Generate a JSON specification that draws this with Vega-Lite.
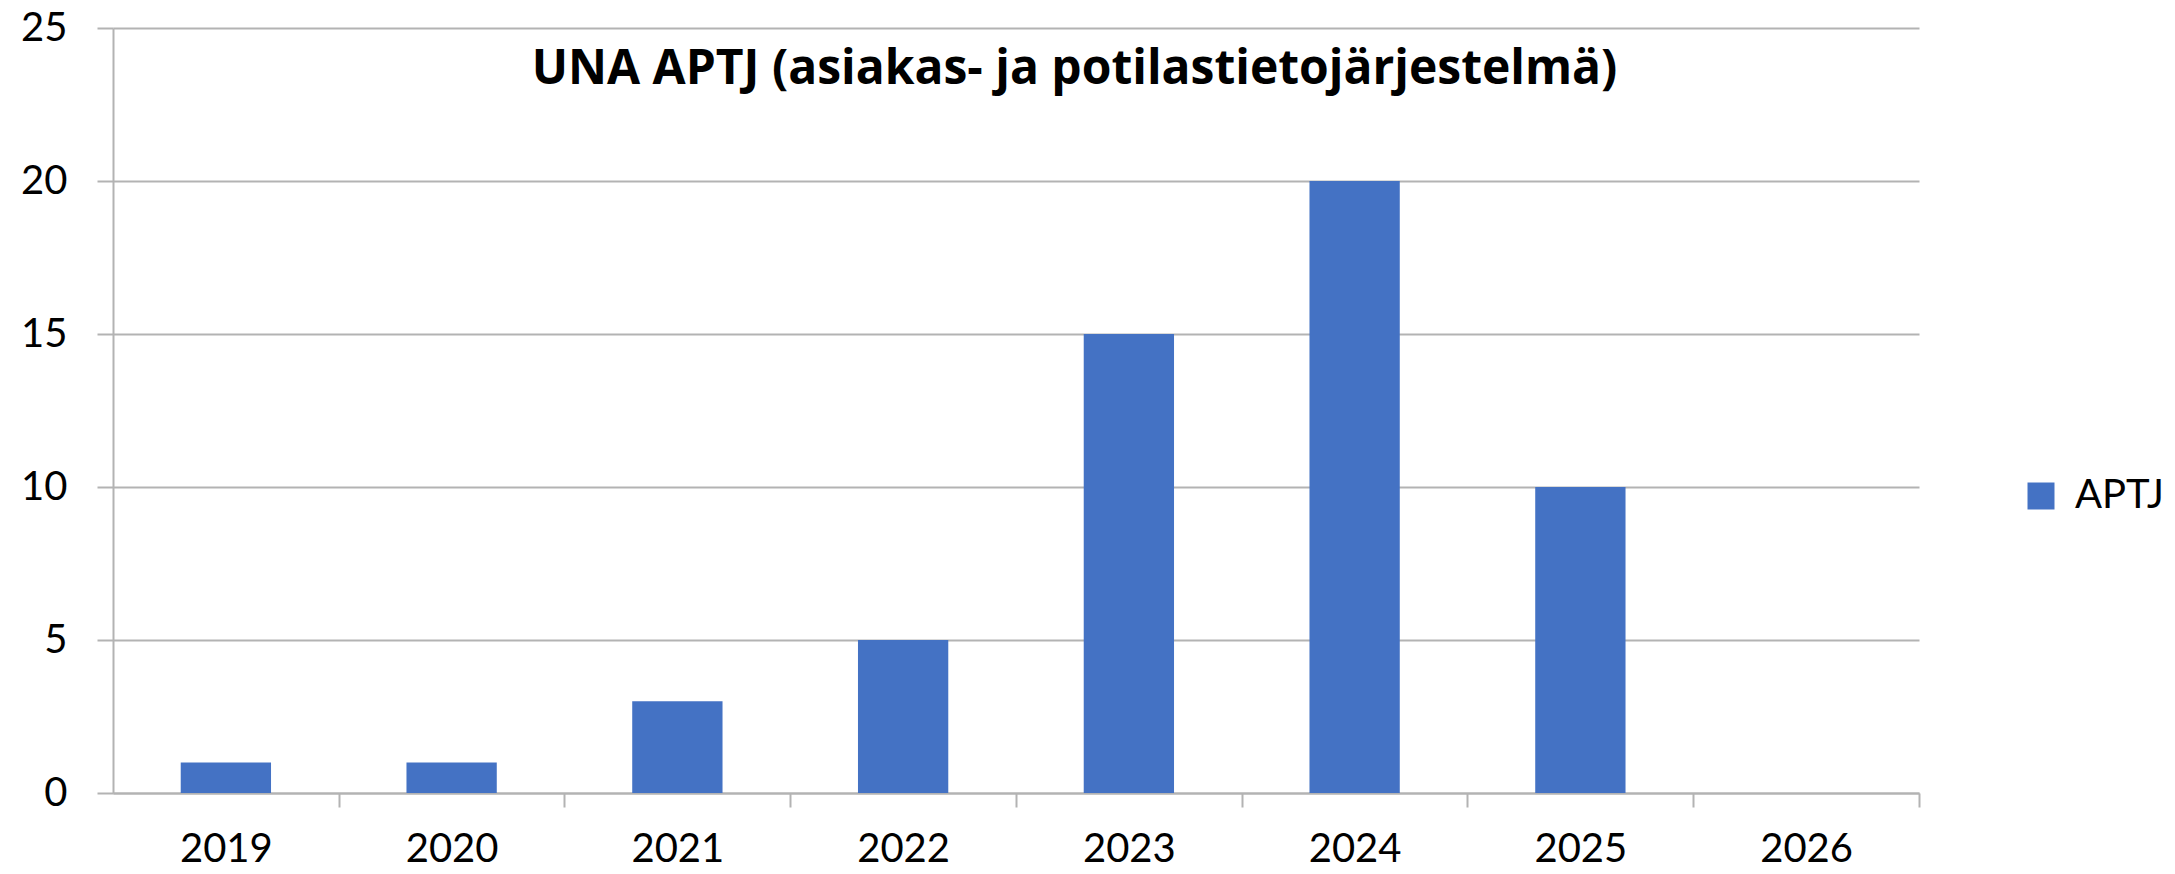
{
  "$schema": "https://vega.github.io/schema/vega-lite/v6.json",
  "autosize": "none",
  "width": 1806,
  "height": 765,
  "padding": {"left": 113, "top": 28, "right": 256, "bottom": 81},
  "background": "white",
  "config": {
    "view": {"stroke": null},
    "font": "Lato",
    "axis": {
      "labelFont": "Lato",
      "labelFontSize": 40,
      "labelColor": "black",
      "domainColor": "#b3b3b3",
      "domainWidth": 2,
      "tickColor": "#b3b3b3",
      "tickWidth": 2,
      "gridColor": "#b3b3b3",
      "gridWidth": 2
    }
  },
  "data": {
    "values": [
      {"year": "2019", "value": 1, "series": "APTJ"},
      {"year": "2020", "value": 1, "series": "APTJ"},
      {"year": "2021", "value": 3, "series": "APTJ"},
      {"year": "2022", "value": 5, "series": "APTJ"},
      {"year": "2023", "value": 15, "series": "APTJ"},
      {"year": "2024", "value": 20, "series": "APTJ"},
      {"year": "2025", "value": 10, "series": "APTJ"},
      {"year": "2026", "value": 0, "series": "APTJ"}
    ]
  },
  "mark": {"type": "bar"},
  "encoding": {
    "x": {
      "field": "year",
      "type": "ordinal",
      "title": null,
      "scale": {"paddingInner": 0.6, "paddingOuter": 0.3},
      "axis": {
        "bandPosition": 1,
        "tickOffset": 67.725,
        "labelOffset": -67.725,
        "tickSize": 14,
        "labelAngle": 0,
        "labelPadding": 22,
        "grid": false
      }
    },
    "y": {
      "field": "value",
      "type": "quantitative",
      "title": "UNA APTJ (asiakas- ja potilastietojärjestelmä)",
      "scale": {"domain": [0, 25], "nice": false},
      "axis": {
        "values": [0, 5, 10, 15, 20, 25],
        "tickSize": 16,
        "labelPadding": 30,
        "grid": true,
        "titleAngle": 0,
        "titleX": 961,
        "titleY": 55,
        "titleAlign": "center",
        "titleBaseline": "alphabetic",
        "titleFont": "Open Sans",
        "titleFontSize": 48,
        "titleFontWeight": "bold",
        "titleColor": "black",
        "titleLimit": 2000
      }
    },
    "color": {
      "field": "series",
      "type": "nominal",
      "scale": {"range": ["#4472C4"]},
      "legend": {
        "title": null,
        "orient": "none",
        "legendX": 1908,
        "legendY": 448,
        "symbolType": "square",
        "symbolSize": 729,
        "symbolStrokeWidth": 0,
        "labelFont": "Lato",
        "labelFontSize": 40,
        "labelColor": "black",
        "labelOffset": 14,
        "padding": 0
      }
    }
  }
}
